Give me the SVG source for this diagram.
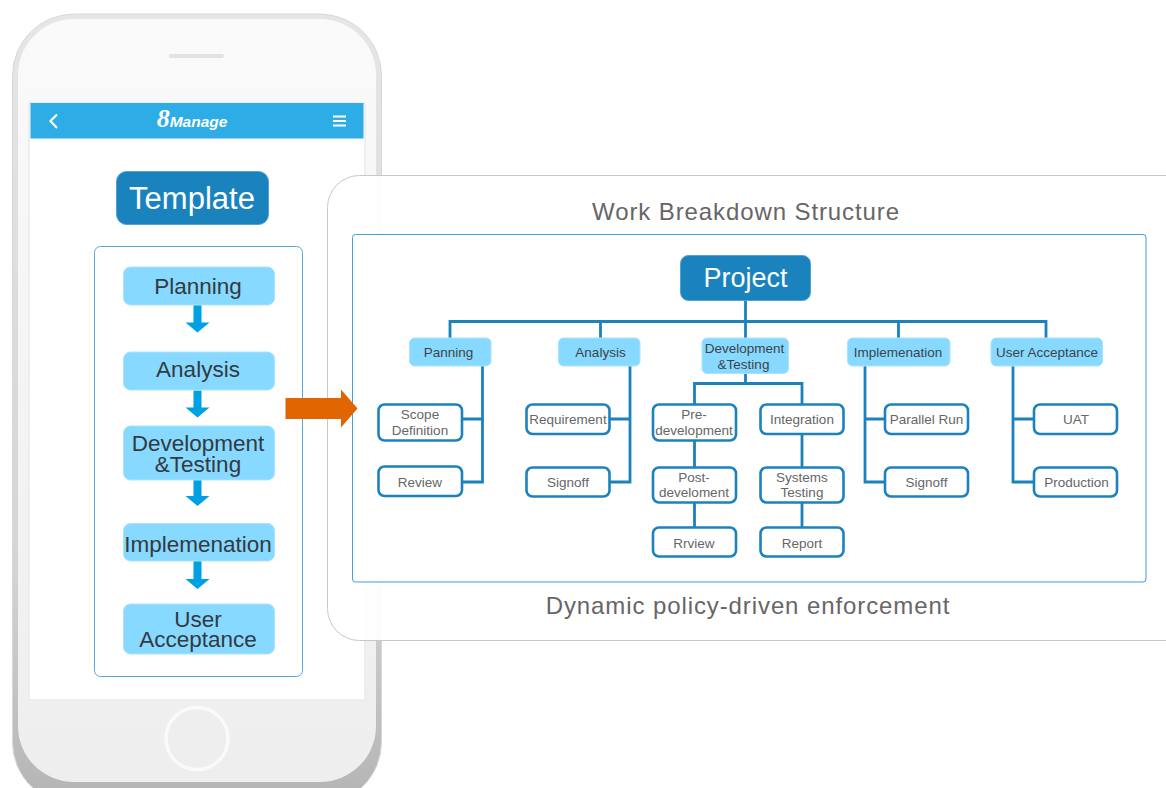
<svg xmlns="http://www.w3.org/2000/svg" width="1166" height="788" viewBox="0 0 1166 788">
<defs>
<linearGradient id="rim" x1="0" y1="0" x2="0" y2="1"><stop offset="0" stop-color="#e6e6e6"/><stop offset="0.7" stop-color="#d4d4d4"/><stop offset="1" stop-color="#b4b4b4"/></linearGradient>
<linearGradient id="body" x1="0" y1="0" x2="0" y2="1"><stop offset="0" stop-color="#fafafa"/><stop offset="1" stop-color="#eeeeee"/></linearGradient>
</defs>
<style>
text{font-family:"Liberation Sans",Arial,sans-serif;text-anchor:middle}
.step rect{fill:#87d9ff;stroke:#a8e3ff;stroke-width:1}
.step text{fill:#333a40;font-size:22.5px}
.head rect{fill:#87d9ff;stroke:#a8e3ff;stroke-width:1}
.head text{fill:#3c444a;font-size:13.5px}
.leaf rect{fill:#fff;stroke:#1b82bd;stroke-width:2.6}
.leaf text{fill:#666;font-size:13.5px}
.dark rect{fill:#1a82bd;stroke:#4fa3d3;stroke-width:1}
.dark text{fill:#fff}
.wire{fill:none;stroke:#1b82bd;stroke-width:2.8}
.cap{fill:#666;font-size:24px;letter-spacing:.9px}
.down{fill:#00a0e4}
</style>
<rect width="1166" height="788" fill="#fff"/>
<g id="phone">
<rect x="12.500" y="14" width="369" height="790" rx="62" fill="url(#rim)" stroke="#d8d8d8" stroke-width="1"/>
<rect x="18" y="19" width="358" height="763" rx="56" fill="url(#body)"/>
<rect x="169" y="54" width="55" height="4" rx="2" fill="#e2e2e2"/>
<rect x="29" y="103" width="336" height="597" fill="#fff" stroke="#eaeaea" stroke-width="1.500"/>
<rect x="30.500" y="103" width="333" height="35.500" fill="#2eace5"/>
<path d="M57 114.500 50.500 121 57 128" fill="none" stroke="#fff" stroke-width="2.200"/>
<path d="M333 116.500h13M333 121h13M333 125.500h13" fill="none" stroke="#fff" stroke-width="2"/>
<text x="192" y="127" font-size="15.500" font-weight="700" font-style="italic" fill="#fff"><tspan font-family="Liberation Serif" font-size="26">8</tspan>Manage</text>
<circle cx="197" cy="738.500" r="31" fill="#eeeeee" stroke="#fafafa" stroke-width="3.500"/>
</g>
<g id="template" class="dark"><rect x="116.500" y="171.500" width="152" height="53" rx="10"/><text x="192" y="209" font-size="31">Template</text></g>
<rect id="template-frame" x="94.500" y="246.500" width="208" height="430" rx="6" fill="#fff" stroke="#55a9d8" stroke-width="1"/>
<g id="tpl-connectors" class="down">
<path d="M193.500 305h8v17.500h8l-12 10-12-10h8z"/>
<path d="M193.500 390.500h8v17h8l-12 10-12-10h8z"/>
<path d="M193.500 480h8v16h8l-12 10-12-10h8z"/>
<path d="M193.500 561h8v18h8l-12 10-12-10h8z"/>
</g>
<g id="tpl-planning" class="step"><rect x="123.500" y="267" width="151" height="38" rx="7"/><text x="198" y="293.500">Planning</text></g>
<g id="tpl-analysis" class="step"><rect x="123.500" y="352" width="151" height="38" rx="7"/><text x="198" y="377">Analysis</text></g>
<g id="tpl-dev" class="step"><rect x="123.500" y="426" width="151" height="54" rx="7"/><text x="198" y="451">Development</text><text x="198" y="472">&amp;Testing</text></g>
<g id="tpl-impl" class="step"><rect x="123.500" y="523.500" width="151" height="37.500" rx="7"/><text x="198" y="551.500">Implemenation</text></g>
<g id="tpl-uat" class="step"><rect x="123.500" y="604" width="151" height="50" rx="7"/><text x="198" y="627">User</text><text x="198" y="647">Acceptance</text></g>
<g id="panel">
<rect x="327.500" y="175.500" width="880" height="465" rx="32" fill="#fff" fill-opacity=".93" stroke="#c8c8c8" stroke-width="1"/>
<text class="cap" x="746" y="220">Work Breakdown Structure</text>
<rect x="352.500" y="234.500" width="793.500" height="347.500" rx="3" fill="#fff" stroke="#3f9fd6" stroke-width="1"/>
<text class="cap" x="748" y="614">Dynamic policy-driven enforcement</text>
</g>
<g id="big-arrow"><path d="M285.500 398h55.500v-8.500l16.500 19-16.500 19v-8.500h-55.500z" fill="#e16500"/></g>
<g id="connectors" class="wire">
<path d="M450 338V321.500H1046V338M600.500 321.500V338M745.500 301V338M898.500 321.500V338"/>
<path d="M482.500 366V482H462M482.500 419H462"/>
<path d="M630 366V482H609M630 419H609"/>
<path d="M745.500 374V383.500M694.500 404V383.500H802V404M694.500 441V467M694.500 502V527M802 434V467M802 502V527"/>
<path d="M865 366V482H885M865 419H885"/>
<path d="M1013 366V482H1034M1013 419H1034"/>
</g>
<g id="project" class="dark"><rect x="680.500" y="255.500" width="130" height="45" rx="8"/><text x="745.500" y="287" font-size="27">Project</text></g>
<g id="h-panning" class="head"><rect x="409.500" y="338" width="81.500" height="28" rx="5"/><text x="448.500" y="357">Panning</text></g>
<g id="h-analysis" class="head"><rect x="558.500" y="338" width="81.500" height="28" rx="5"/><text x="600.500" y="357">Analysis</text></g>
<g id="h-dev" class="head"><rect x="702" y="338" width="86.500" height="35.500" rx="5"/><text x="744.500" y="353">Development</text><text x="743.500" y="369">&amp;Testing</text></g>
<g id="h-impl" class="head"><rect x="847.500" y="338" width="102.500" height="28" rx="5"/><text x="898" y="357">Implemenation</text></g>
<g id="h-uat" class="head"><rect x="991" y="338" width="111.500" height="28" rx="5"/><text x="1047" y="357">User Acceptance</text></g>
<g id="n-scope" class="leaf"><rect x="378.500" y="404.500" width="83.500" height="36" rx="6"/><text x="420" y="419">Scope</text><text x="420" y="435">Definition</text></g>
<g id="n-review" class="leaf"><rect x="378.500" y="466.500" width="83.500" height="29.500" rx="6"/><text x="420" y="487">Review</text></g>
<g id="n-req" class="leaf"><rect x="526.500" y="404.500" width="83" height="29.500" rx="6"/><text x="568" y="424">Requirement</text></g>
<g id="n-signoff1" class="leaf"><rect x="526.500" y="467.500" width="83" height="29" rx="6"/><text x="568" y="487">Signoff</text></g>
<g id="n-pre" class="leaf"><rect x="653" y="404.500" width="83" height="36" rx="6"/><text x="694" y="419">Pre-</text><text x="694" y="435">development</text></g>
<g id="n-int" class="leaf"><rect x="760.500" y="404.500" width="83" height="29.500" rx="6"/><text x="802" y="424">Integration</text></g>
<g id="n-post" class="leaf"><rect x="653" y="467.500" width="83" height="35" rx="6"/><text x="694" y="482">Post-</text><text x="694" y="497">develoment</text></g>
<g id="n-sys" class="leaf"><rect x="760.500" y="467.500" width="83" height="35" rx="6"/><text x="802" y="482">Systems</text><text x="802" y="497">Testing</text></g>
<g id="n-rrview" class="leaf"><rect x="653" y="527.500" width="83" height="29" rx="6"/><text x="694" y="548">Rrview</text></g>
<g id="n-report" class="leaf"><rect x="760.500" y="527.500" width="83" height="29" rx="6"/><text x="802" y="548">Report</text></g>
<g id="n-parallel" class="leaf"><rect x="885" y="404.500" width="83" height="29.500" rx="6"/><text x="926.500" y="424">Parallel Run</text></g>
<g id="n-signoff2" class="leaf"><rect x="885" y="467.500" width="83" height="29" rx="6"/><text x="926.500" y="487">Signoff</text></g>
<g id="n-uat" class="leaf"><rect x="1034" y="404.500" width="83" height="29.500" rx="6"/><text x="1076" y="424">UAT</text></g>
<g id="n-prod" class="leaf"><rect x="1034" y="467.500" width="83" height="29" rx="6"/><text x="1076.500" y="487">Production</text></g>
</svg>
